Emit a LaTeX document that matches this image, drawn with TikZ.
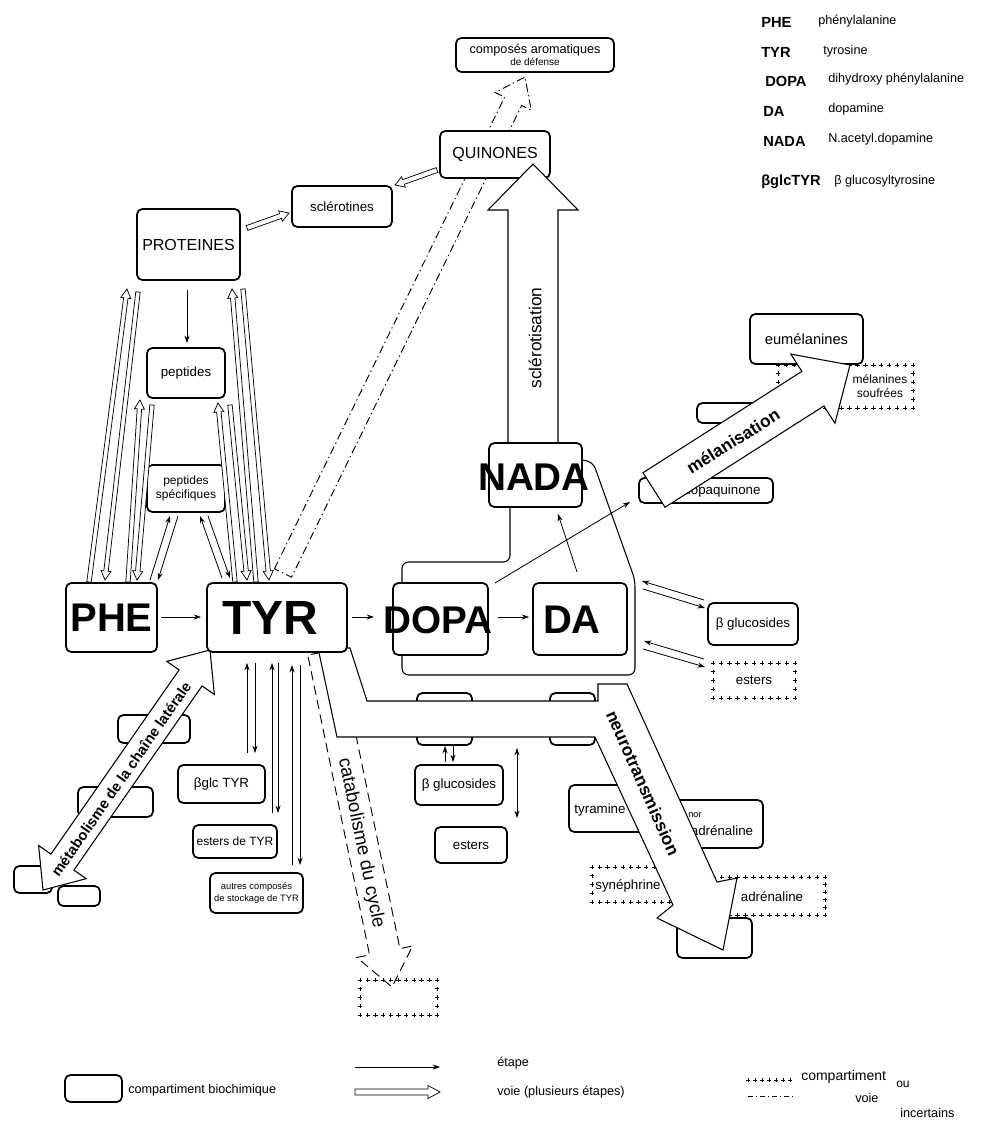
\documentclass[tikz,border=0pt]{standalone}
\usepackage{fontspec}
\setmainfont{Liberation Sans}
\usetikzlibrary{arrows.meta,calc,fit}

\newcommand{\FAprep}[5]{%
  \path (#1); \pgfgetlastxy{\FAxa}{\FAya}%
  \path (#2); \pgfgetlastxy{\FAxb}{\FAyb}%
  \pgfmathsetmacro\FAang{atan2(\FAyb-\FAya,\FAxb-\FAxa)}%
  \pgfmathsetmacro\FAlen{veclen(\FAxb-\FAxa,\FAyb-\FAya)}%
  \pgfmathsetmacro\FAw{#3*0.75}%
  \pgfmathsetmacro\FAW{#4*0.75}%
  \pgfmathsetmacro\FAh{#5*0.75}%
  \pgfmathsetmacro\FAb{\FAlen-\FAh}%
}
\newcommand{\fatarrow}[6][]{%
  \FAprep{#2}{#3}{#4}{#5}{#6}%
  \begin{scope}[shift={(\FAxa,\FAya)},rotate=\FAang]
    \draw[harrow,#1] (0pt,\FAw pt) -- (\FAb pt,\FAw pt) -- (\FAb pt,\FAW pt)
      -- (\FAlen pt,0pt) -- (\FAb pt,-\FAW pt) -- (\FAb pt,-\FAw pt)
      -- (0pt,-\FAw pt) -- cycle;
  \end{scope}}
\newcommand{\dblarrow}[6][]{%
  \FAprep{#2}{#3}{#4}{#5}{#6}%
  \begin{scope}[shift={(\FAxa,\FAya)},rotate=\FAang]
    \draw[harrow,#1] (0pt,0pt) -- (\FAh pt,\FAW pt) -- (\FAh pt,\FAw pt)
      -- (\FAb pt,\FAw pt) -- (\FAb pt,\FAW pt) -- (\FAlen pt,0pt)
      -- (\FAb pt,-\FAW pt) -- (\FAb pt,-\FAw pt) -- (\FAh pt,-\FAw pt)
      -- (\FAh pt,-\FAW pt) -- cycle;
  \end{scope}}
% crosses along the border of an uncertain compartment
\newcommand{\plusbox}[4]{%
  \pgfmathtruncatemacro\PBn{max(1,round((#3-#1)/8))}%
  \pgfmathtruncatemacro\PBm{max(1,round((#4-#2)/8))}%
  \foreach \i in {0,...,\PBn}{%
    \pgfmathsetmacro\PBx{#1+(#3-#1)*\i/\PBn}%
    \draw[pluspen] (\PBx-2.2,#2) -- (\PBx+2.2,#2) (\PBx,#2-2.2) -- (\PBx,#2+2.2)
                   (\PBx-2.2,#4) -- (\PBx+2.2,#4) (\PBx,#4-2.2) -- (\PBx,#4+2.2);}%
  \foreach \i in {0,...,\PBm}{%
    \pgfmathsetmacro\PBy{#2+(#4-#2)*\i/\PBm}%
    \draw[pluspen] (#1-2.2,\PBy) -- (#1+2.2,\PBy) (#1,\PBy-2.2) -- (#1,\PBy+2.2)
                   (#3-2.2,\PBy) -- (#3+2.2,\PBy) (#3,\PBy-2.2) -- (#3,\PBy+2.2);}%
}

\begin{document}
\begin{tikzpicture}[x=0.75pt,y=-0.75pt,
  cbox/.style={draw, line width=1.3pt, rounded corners=4pt, fill=white, inner sep=0pt},
  ufill/.style={fill=white, inner sep=0pt},
  pluspen/.style={line width=0.5pt},
  arr/.style={-{Stealth[length=5.5pt,width=3.8pt]}, line width=0.6pt},
  darr/.style={{Stealth[length=5.5pt,width=3.8pt]}-{Stealth[length=5.5pt,width=3.8pt]}, line width=0.6pt},
  harrow/.style={draw, fill=white, line width=0.8pt},
  thinh/.style={line width=0.55pt},
  dashdot/.style={dash pattern=on 6pt off 2.5pt on 1pt off 2.5pt},
  longdash/.style={dash pattern=on 7pt off 4pt},
  hand/.style={font=\fontsize{10}{11.5}\selectfont, inner sep=0pt},
  lab/.style={font=\fontsize{12}{13}\selectfont, inner sep=0pt},
  legb/.style={font=\fontsize{11}{12}\selectfont\bfseries, inner sep=0pt, anchor=west},
  legt/.style={font=\fontsize{9.5}{11}\selectfont, inner sep=0pt, anchor=west},
  hugetxt/.style={font=\fontsize{29}{29}\selectfont\bfseries, inner sep=0pt},
  flow/.style={font=\fontsize{13}{13}\selectfont\bfseries, inner sep=0pt},
]
\useasboundingbox (0,0) rectangle (981,1129);

% ---------- uncertain target and dashed pathways
\node[ufill, fit={(360,980)(437,1015)}] (catbox) {};
\plusbox{360}{980}{437}{1015}
\coordinate (cpT) at (283,573); \coordinate (cpH) at (525,77);
\fatarrow[dashdot, fill=none, line width=0.7pt]{cpT}{cpH}{9.5}{20}{27}
\coordinate (caT) at (323,652); \coordinate (caH) at (392,987);
\fatarrow[longdash, fill=none, line width=0.7pt]{caT}{caH}{15.5}{28.5}{36}

% ---------- hidden boxes
\node[cbox, fit={(118,715)(190,743)}] (hb1) {};
\node[cbox, fit={(78,787)(153,817)}] (hb2) {};
\node[cbox, fit={(14,866)(52,893)}] (hb3) {};
\node[cbox, fit={(58,886)(100,906)}] (hb4) {};
\node[cbox, fit={(417,693)(472,745)}] (hb5) {};
\node[cbox, fit={(550,693)(595,745)}] (hb6) {};
\node[cbox, fit={(697,403)(760,423)}] (hb7) {};
\node[cbox, fit={(677,918)(752,958)}] (hb8) {};

% ---------- neurotransmission products
\node[cbox, fit={(569,785)(652,832)}] (tyram) {};
\node[hand] (tyramt) at (600,810) {tyramine};
\node[cbox, fit={(655,800)(763,848)}] (noradr) {};
\node[font=\fontsize{7}{7}\selectfont, inner sep=0pt] (nort) at (695,815) {nor};
\node[hand] (noradrt) at (722,831) {adrénaline};
\node[ufill, fit={(592,867)(685,902)}] (syneph) {};
\plusbox{592}{867}{685}{902}
\node[hand] (synepht) at (628,886) {synéphrine};
\node[ufill, fit={(690,877)(825,915)}] (adren) {};
\plusbox{690}{877}{825}{915}
\node[hand] (adrent) at (772,897) {adrénaline};

% ---------- compartment around DOPA / DA / NADA
\draw[line width=0.8pt, rounded corners=5pt] (510,507) -- (510,562) -- (402,562) -- (402,675) -- (635,675) -- (635,580) -- (593,462) -- (582,460);

% ---------- neurotransmission Y-shaped pathway
\draw[harrow] (318,648) -- (337,737) -- (595,737) -- (673,905) -- (657,918) -- (723,950) -- (737,878) -- (717,882) -- (627,684) -- (598,684) -- (598,701) -- (367,701) -- (350,648) -- cycle;
\node[flow, rotate=-66] (neurot) at (643,783) {neurotransmission};
\node[font=\fontsize{14}{14}\selectfont, inner sep=0pt, rotate=-78.4] (catat) at (361,843) {catabolisme du cycle};

% ---------- side chain metabolism
\coordinate (mtA) at (210,650); \coordinate (mtB) at (43,890);
\dblarrow{mtB}{mtA}{14}{29}{34}
\node[font=\fontsize{11}{11}\selectfont\bfseries, inner sep=0pt, rotate=55.2] (metat) at (121,779) {métabolisme de la chaîne latérale};

% ---------- upper boxes
\node[cbox, fit={(456,38)(614,72)}] (compo) {};
\node[align=center, font=\fontsize{9.5}{10}\selectfont, inner sep=0pt] (compot) at (compo.center) {composés aromatiques\\[-1pt]{\fontsize{7.5}{8}\selectfont de défense}};
\node[cbox, fit={(440,131)(550,178)}] (quin) {};
\node[lab] (quint) at (quin.center) {QUINONES};
\node[cbox, fit={(292,186)(392,227)}] (sclt) {};
\node[hand] (scltt) at (sclt.center) {sclérotines};
\node[cbox, fit={(137,209)(240,280)}] (prot) {};
\node[lab] (prott) at (prot.center) {PROTEINES};
\node[cbox, fit={(147,348)(225,398)}] (pep) {};
\node[hand] (pept) at (pep.center) {peptides};
\node[cbox, fit={(147,465)(225,512)}] (pepsp) {};
\node[align=center, font=\fontsize{9}{10.5}\selectfont, inner sep=0pt] (pepspt) at (pepsp.center) {peptides\\spécifiques};

% ---------- melanins
\node[ufill, fit={(778,365)(913,408)}] (souf) {};
\plusbox{778}{365}{913}{408}
\node[align=center, font=\fontsize{9}{10}\selectfont, inner sep=0pt] (souft) at (880,386) {mélanines\\soufrées};
\node[cbox, fit={(750,314)(863,364)}] (eumel) {};
\node[font=\fontsize{11}{12}\selectfont, inner sep=0pt] (eumelt) at (eumel.center) {eumélanines};
\node[cbox, fit={(639,478)(773,503)}] (dopaq) {};
\node[hand] (dopaqt) at (722,491) {dopaquinone};

% ---------- right storage
\node[cbox, fit={(708,603)(798,645)}] (bglur) {};
\node[hand] (bglurt) at (bglur.center) {β glucosides};
\node[ufill, fit={(713,663)(795,698)}] (estr) {};
\plusbox{713}{663}{795}{698}
\node[hand] (estrt) at (estr.center) {esters};

% ---------- TYR storage
\node[cbox, fit={(178,765)(265,803)}] (bglc) {};
\node[hand] (bglct) at (bglc.center) {βglc TYR};
\node[cbox, fit={(193,825)(277,858)}] (estyr) {};
\node[font=\fontsize{9}{10}\selectfont, inner sep=0pt] (estyrt) at (estyr.center) {esters de TYR};
\node[cbox, fit={(210,873)(303,913)}] (autres) {};
\node[align=center, font=\fontsize{7}{8.5}\selectfont, inner sep=0pt] (autrest) at (autres.center) {autres composés\\de stockage de TYR};
\node[cbox, fit={(415,765)(503,805)}] (bgluc) {};
\node[hand] (bgluct) at (bgluc.center) {β glucosides};
\node[cbox, fit={(435,827)(507,863)}] (estc) {};
\node[hand] (estct) at (estc.center) {esters};

% ---------- hollow (multi-step) arrows between amino acids and proteins
\coordinate (a1) at (89,582);  \coordinate (a2) at (127,289);
\coordinate (b1) at (138,292); \coordinate (b2) at (105,580);
\coordinate (c1) at (128,582); \coordinate (c2) at (140,400);
\coordinate (d1) at (152,405); \coordinate (d2) at (137,580);
\coordinate (e1) at (235,582); \coordinate (e2) at (218,403);
\coordinate (f1) at (230,405); \coordinate (f2) at (247,580);
\coordinate (g1) at (256,582); \coordinate (g2) at (232,289);
\coordinate (h1) at (243,289); \coordinate (h2) at (269,580);
\fatarrow[thinh]{a1}{a2}{2.2}{5}{9}
\fatarrow[thinh]{b1}{b2}{2.2}{5}{9}
\fatarrow[thinh]{c1}{c2}{2.2}{5}{9}
\fatarrow[thinh]{d1}{d2}{2.2}{5}{9}
\fatarrow[thinh]{e1}{e2}{2.2}{5}{9}
\fatarrow[thinh]{f1}{f2}{2.2}{5}{9}
\fatarrow[thinh]{g1}{g2}{2.2}{5}{9}
\fatarrow[thinh]{h1}{h2}{2.2}{5}{9}
\coordinate (ps1) at (247,228); \coordinate (ps2) at (289,213);
\fatarrow[thinh]{ps1}{ps2}{2.5}{5.5}{9}
\coordinate (qs1) at (437,170); \coordinate (qs2) at (395,185);
\fatarrow[thinh]{qs1}{qs2}{2.5}{5.5}{9}

% ---------- sclerotisation
\coordinate (scT) at (533,443); \coordinate (scH) at (533,164);
\fatarrow{scT}{scH}{25}{45}{46}
\node[font=\fontsize{13}{13}\selectfont, inner sep=0pt, rotate=90] (sctxt) at (535,338) {sclérotisation};

% ---------- catecholamines
\node[cbox, fit={(489,443)(582,507)}] (nada) {};
\node[hugetxt] (nadat) at (534,477) {NADA};
\node[cbox, fit={(393,583)(488,655)}] (dopa) {};
\node[hugetxt] (dopat) at (438,620) {DOPA};
\node[cbox, fit={(533,583)(627,655)}] (da) {};
\node[hugetxt, font=\fontsize{30}{30}\selectfont\bfseries] (dat) at (572,620) {DA};

% ---------- melanisation
\coordinate (meT) at (654,490); \coordinate (meH) at (850,365);
\fatarrow{meT}{meH}{20.5}{41}{44}
\node[flow, rotate=32] (metxt) at (733,441) {mélanisation};

% ---------- PHE, TYR
\node[cbox, fit={(66,583)(157,652)}] (phe) {};
\node[font=\fontsize{30}{30}\selectfont\bfseries, inner sep=0pt] (phet) at (phe.center) {PHE};
\node[cbox, fit={(207,583)(347,652)}] (tyr) {};
\node[font=\fontsize{36}{36}\selectfont\bfseries, inner sep=0pt] (tyrt) at (270,618) {TYR};

% ---------- single steps
\coordinate (s1a) at (187,290); \coordinate (s1b) at (187,343);
\draw[arr] (s1a) -- (s1b);
\coordinate (p1a) at (150,580); \coordinate (p1b) at (170,516);
\coordinate (p2a) at (178,516); \coordinate (p2b) at (158,580);
\coordinate (p3a) at (222,578); \coordinate (p3b) at (200,516);
\coordinate (p4a) at (208,516); \coordinate (p4b) at (230,578);
\draw[arr] (p1a) -- (p1b); \draw[arr] (p2a) -- (p2b);
\draw[arr] (p3a) -- (p3b); \draw[arr] (p4a) -- (p4b);
\coordinate (pt1) at (161,617); \coordinate (pt2) at (201,617);
\draw[arr] (pt1) -- (pt2);
\coordinate (td1) at (352,617); \coordinate (td2) at (374,617);
\draw[arr] (td1) -- (td2);
\coordinate (dd1) at (498,617); \coordinate (dd2) at (529,617);
\draw[arr] (dd1) -- (dd2);
\coordinate (dq1) at (495,583); \coordinate (dq2) at (630,502);
\draw[arr] (dq1) -- (dq2);
\coordinate (dn1) at (577,572); \coordinate (dn2) at (558,514);
\draw[arr] (dn1) -- (dn2);
% TYR storage
\coordinate (ty1a) at (247,753); \coordinate (ty1b) at (247,663);
\coordinate (ty2a) at (255,663); \coordinate (ty2b) at (255,753);
\coordinate (ty3a) at (272,813); \coordinate (ty3b) at (272,663);
\coordinate (ty4a) at (278,663); \coordinate (ty4b) at (278,813);
\coordinate (ty5a) at (292,865); \coordinate (ty5b) at (292,665);
\coordinate (ty6a) at (300,665); \coordinate (ty6b) at (300,865);
\draw[arr] (ty1a) -- (ty1b); \draw[arr] (ty2a) -- (ty2b);
\draw[arr] (ty3a) -- (ty3b); \draw[arr] (ty4a) -- (ty4b);
\draw[arr] (ty5a) -- (ty5b); \draw[arr] (ty6a) -- (ty6b);
% right exchanges
\coordinate (r1a) at (704,600); \coordinate (r1b) at (642,581);
\coordinate (r2a) at (643,589); \coordinate (r2b) at (705,608);
\coordinate (r3a) at (704,659); \coordinate (r3b) at (644,641);
\coordinate (r4a) at (643,649); \coordinate (r4b) at (705,667);
\draw[arr] (r1a) -- (r1b); \draw[arr] (r2a) -- (r2b);
\draw[arr] (r3a) -- (r3b); \draw[arr] (r4a) -- (r4b);
% centre exchanges
\coordinate (c1a) at (445,762); \coordinate (c1b) at (445,746);
\coordinate (c2a) at (453,746); \coordinate (c2b) at (453,762);
\draw[arr] (c1a) -- (c1b); \draw[arr] (c2a) -- (c2b);
\coordinate (v1a) at (517,748); \coordinate (v1b) at (517,818);
\draw[darr] (v1a) -- (v1b);

% ---------- legend top right
\node[legb] (lphe) at (761,22) {PHE};
\node[legt] (dphe) at (818,21) {phénylalanine};
\node[legb] (ltyr) at (761,52) {TYR};
\node[legt] (dtyr) at (823,51) {tyrosine};
\node[legb] (ldopa) at (765,81) {DOPA};
\node[legt] (ddopa) at (828,79) {dihydroxy phénylalanine};
\node[legb] (lda) at (763,111) {DA};
\node[legt] (dda) at (828,109) {dopamine};
\node[legb] (lnada) at (763,141) {NADA};
\node[legt] (dnada) at (828,139) {N.acetyl.dopamine};
\node[legb] (lbglc) at (761,182) {βglcTYR};
\node[legt] (dbglc) at (834,181) {β glucosyltyrosine};

% ---------- legend bottom
\node[cbox, fit={(65,1075)(122,1102)}] (legbox) {};
\node[legt] (legboxt) at (128,1090) {compartiment biochimique};
\coordinate (lg1) at (355,1067); \coordinate (lg2) at (440,1067);
\draw[arr] (lg1) -- (lg2);
\coordinate (lg3) at (355,1092); \coordinate (lg4) at (440,1092);
\fatarrow[thinh]{lg3}{lg4}{3}{6.5}{12}
\node[legt] (letape) at (497,1063) {étape};
\node[legt] (lvoie) at (497,1092) {voie (plusieurs étapes)};
\foreach \k in {0,...,6}{\draw[pluspen] (748+7*\k-2.2,1080) -- (748+7*\k+2.2,1080) (748+7*\k,1077.8) -- (748+7*\k,1082.2);}
\coordinate (lu3) at (748,1096); \coordinate (lu4) at (795,1096);
\draw[dash pattern=on 4pt off 2pt on 1pt off 2pt, line width=0.6pt] (lu3) -- (lu4);
\node[legt, font=\fontsize{10.5}{11}\selectfont] (lcomp) at (801,1077) {compartiment};
\node[legt, font=\fontsize{9}{9}\selectfont] (lou) at (896,1084) {ou};
\node[legt] (lvoie2) at (855,1098) {voie};
\node[legt] (linc) at (900,1113) {incertains};
\end{tikzpicture}
\end{document}
